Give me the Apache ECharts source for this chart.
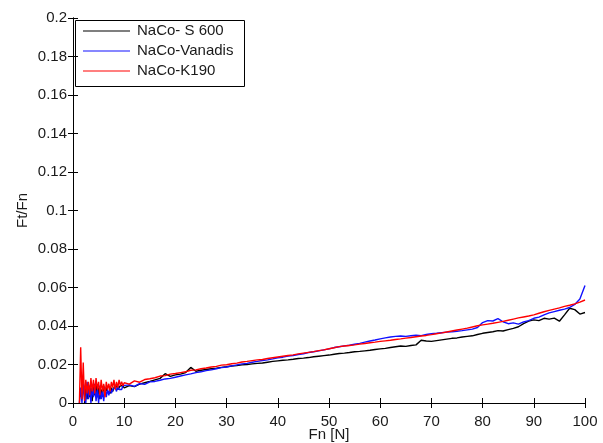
<!DOCTYPE html>
<html>
<head>
<meta charset="utf-8">
<script src="https://cdn.jsdelivr.net/npm/echarts@6/dist/echarts.min.js"></script>
<style>html,body{margin:0;padding:0;background:#fff;}#c{width:603px;height:443px;}</style>
</head>
<body>
<div id="c"></div>
<script>
var seriesNames = ['NaCo- S 600', 'NaCo-Vanadis', 'NaCo-K190'];
var xTicks = [0, 10, 20, 30, 40, 50, 60, 70, 80, 90, 100];
var yTicks = [0, 0.02, 0.04, 0.06, 0.08, 0.1, 0.12, 0.14, 0.16, 0.18, 0.2];

var fn = [1.25,1.5,1.75,2,2.25,2.5,2.75,3,3.25,3.5,3.75,4,4.25,4.5,4.75,5,5.25,5.5,5.75,6,6.25,6.5,6.75,7,7.25,7.5,7.75,8,8.25,8.5,8.75,9,9.25,9.5,9.75,
10,11,12,13,14,15,16,17,18,19,20,21,22,23,24,25,26,27,28,29,30,31,32,33,34,35,36,37,38,39,40,41,42,43,44,45,46,47,48,49,50,51,52,53,54,55,56,57,58,59,60,61,62,63,64,65,66,67,68,69,70,71,72,73,74,75,76,77,78,79,80,81,82,83,84,85,86,87,88,89,90,91,92,93,94,95,96,97,98,99,100];

var s600 = [null,null,null,null,0.000,0.008,0.002,0.010,0.003,0.008,0.001,0.009,0.004,0.011,0.003,0.008,0.002,0.007,0.004,0.009,0.005,0.008,0.006,0.007,0.005,0.008,0.006,0.008,0.007,0.009,0.007,0.008,0.009,0.008,0.009,
0.0078,0.0090,0.0085,0.0098,0.0105,0.0112,0.0120,0.0128,0.0152,0.0138,0.0146,0.0150,0.0158,0.0185,0.0165,0.0170,0.0174,0.0178,0.0181,0.0185,0.0188,0.0192,0.0194,0.0198,0.0200,0.0203,0.0206,0.0208,0.0212,0.0216,0.0219,0.0222,0.0224,0.0227,0.0231,0.0233,0.0236,0.0240,0.0243,0.0246,0.0249,0.0253,0.0257,0.0259,0.0262,0.0266,0.0268,0.0271,0.0274,0.0278,0.0281,0.0284,0.0288,0.0292,0.0296,0.0294,0.0299,0.0302,0.0326,0.0322,0.0320,0.0324,0.0328,0.0332,0.0336,0.0338,0.0343,0.0346,0.0349,0.0356,0.0362,0.0366,0.0370,0.0376,0.0374,0.0381,0.0388,0.0396,0.0412,0.0425,0.0432,0.0428,0.0440,0.0436,0.0441,0.0425,0.0458,0.0492,0.0485,0.0462,0.0470];

var vanadis = [0.000,0.008,0.000,0.010,0.002,0.000,0.011,0.002,0.009,0.000,0.008,0.003,0.010,0.001,0.007,0.000,0.009,0.002,0.006,0.001,0.008,0.003,0.007,0.004,0.008,0.005,0.007,0.006,0.008,0.006,0.009,0.007,0.008,0.007,0.009,
0.0082,0.0094,0.0086,0.0101,0.0097,0.0110,0.0112,0.0118,0.0125,0.0128,0.0134,0.0140,0.0146,0.0151,0.0158,0.0162,0.0168,0.0172,0.0178,0.0184,0.0187,0.0193,0.0198,0.0203,0.0206,0.0212,0.0216,0.0221,0.0224,0.0229,0.0235,0.0238,0.0244,0.0247,0.0252,0.0256,0.0262,0.0266,0.0271,0.0276,0.0281,0.0288,0.0292,0.0297,0.0300,0.0305,0.0310,0.0316,0.0322,0.0327,0.0333,0.0338,0.0343,0.0346,0.0348,0.0346,0.0349,0.0352,0.0350,0.0356,0.0360,0.0362,0.0365,0.0368,0.0370,0.0373,0.0376,0.0380,0.0384,0.0392,0.0418,0.0428,0.0426,0.0438,0.0422,0.0412,0.0416,0.0410,0.0421,0.0428,0.0440,0.0446,0.0458,0.0468,0.0475,0.0482,0.0488,0.0496,0.0512,0.0540,0.0610];

var k190 = [0.000,0.029,0.002,0.021,0.001,0.012,0.005,0.011,0.004,0.013,0.006,0.012,0.005,0.013,0.007,0.011,0.004,0.012,0.006,0.010,0.003,0.011,0.007,0.010,0.006,0.011,0.008,0.012,0.007,0.011,0.008,0.012,0.009,0.011,0.009,
0.0105,0.0098,0.0115,0.0108,0.0122,0.0126,0.0131,0.0140,0.0142,0.0150,0.0153,0.0158,0.0162,0.0170,0.0172,0.0178,0.0182,0.0187,0.0190,0.0197,0.0199,0.0204,0.0207,0.0213,0.0216,0.0220,0.0224,0.0226,0.0231,0.0235,0.0239,0.0243,0.0247,0.0250,0.0255,0.0259,0.0263,0.0267,0.0272,0.0276,0.0282,0.0287,0.0293,0.0296,0.0299,0.0302,0.0306,0.0309,0.0313,0.0316,0.0320,0.0323,0.0326,0.0330,0.0333,0.0337,0.0340,0.0344,0.0348,0.0351,0.0355,0.0360,0.0364,0.0369,0.0374,0.0379,0.0384,0.0389,0.0395,0.0401,0.0406,0.0410,0.0414,0.0419,0.0424,0.0430,0.0436,0.0442,0.0447,0.0452,0.0458,0.0466,0.0474,0.0481,0.0488,0.0494,0.0502,0.0508,0.0515,0.0524,0.0535];

var colors = ['#000000', '#1010ff', '#ff0000'];
var seriesValues = [s600, vanadis, k190];

function pairs(vals) { return fn.map(function (x, i) { return [x, vals[i]]; }); }

var FONT = '"Liberation Sans", Arial, sans-serif';
var txt = { color: '#1a1a1a', fontFamily: FONT, fontSize: 15 };

var chart = echarts.init(document.getElementById('c'), null, { renderer: 'canvas' });
var axisCommon = {
  axisLine: { show: true, lineStyle: { color: '#000', width: 1 } },
  axisTick: { show: true, inside: true, length: 5, lineStyle: { color: '#000' } },
  splitLine: { show: false }
};
chart.setOption({
  animation: false,
  backgroundColor: '#fff',
  grid: { left: 73, top: 18, right: 18, bottom: 40, show: false, containLabel: false, outerBoundsMode: 'none' },
  xAxis: [
    Object.assign({}, axisCommon, {
      type: 'value', min: 0, max: 100, interval: 10, position: 'bottom',
      name: 'Fn [N]', nameLocation: 'middle', nameGap: 24, nameMoveOverlap: false, nameTextStyle: txt,
      axisLabel: Object.assign({ margin: 11, formatter: function (v) { return xTicks.indexOf(v) >= 0 ? String(v) : ''; } }, txt)
    }),
    Object.assign({}, axisCommon, {
      type: 'value', min: 0, max: 100, interval: 10, position: 'top',
      axisLabel: { show: false }
    })
  ],
  yAxis: [
    Object.assign({}, axisCommon, {
      type: 'value', min: 0, max: 0.2, interval: 0.02, position: 'left',
      name: 'Ft/Fn', nameLocation: 'middle', nameGap: 43, nameMoveOverlap: false, nameTextStyle: txt,
      axisLabel: Object.assign({ margin: 6, formatter: function (v) {
        var r = +v.toFixed(2);
        return yTicks.indexOf(r) >= 0 ? String(r) : '';
      } }, txt)
    }),
    Object.assign({}, axisCommon, {
      type: 'value', min: 0, max: 0.2, interval: 0.02, position: 'right',
      axisLabel: { show: false }
    })
  ],
  legend: {
    left: 83, top: 23, orient: 'vertical', itemWidth: 47, itemHeight: 12, itemGap: 4,
    padding: 0, textStyle: Object.assign({}, txt, { lineHeight: 16, padding: [0, 0, 0, 2] }),
    icon: 'path://M0,5.5 L47,5.5 L47,6.5 L0,6.5 Z',
    data: seriesNames
  },
  graphic: [{
    type: 'rect', left: 73, top: 18, z: 100,
    shape: { width: 169, height: 66 },
    style: { fill: 'none', stroke: '#000', lineWidth: 1 }
  }],
  series: seriesValues.map(function (vals, i) {
    return {
      name: seriesNames[i], type: 'line', data: pairs(vals),
      showSymbol: false, symbol: 'none', connectNulls: false,
      lineStyle: { color: colors[i], width: 1.4 }, itemStyle: { color: colors[i] },
      z: 2 + i
    };
  })
});
</script>
</body>
</html>
